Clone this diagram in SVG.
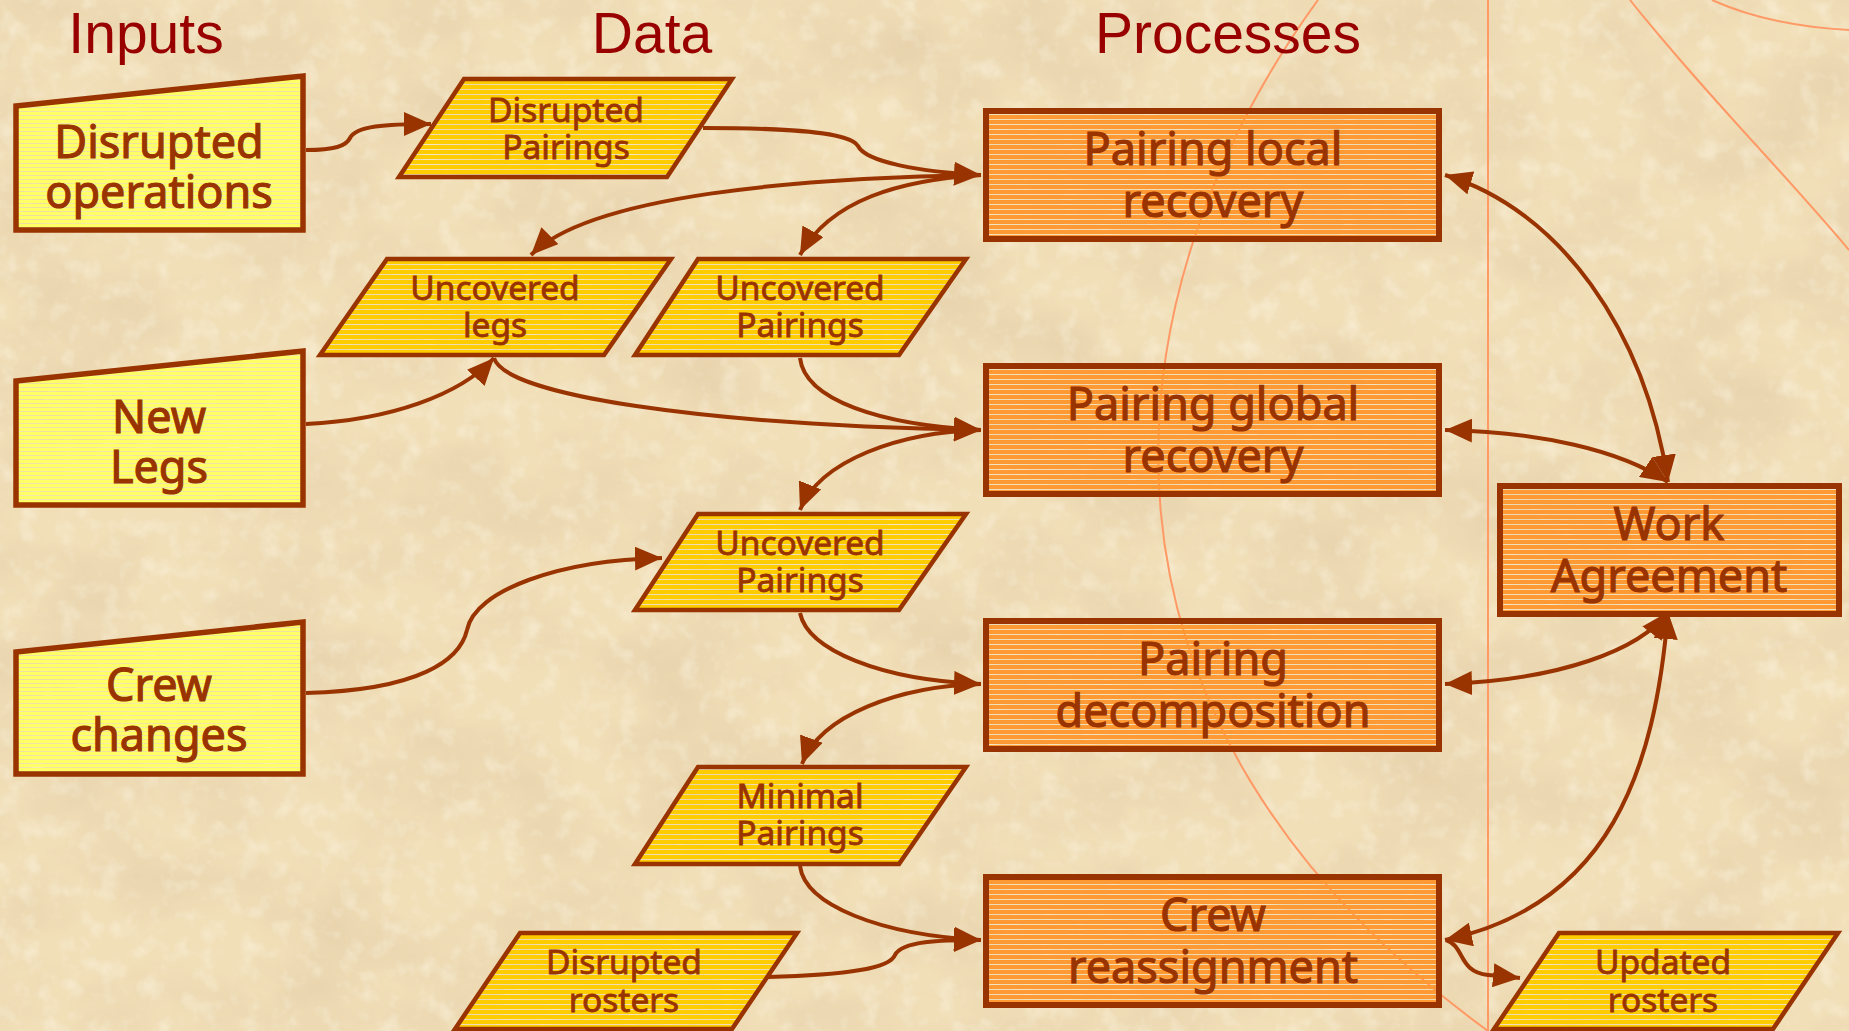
<svg xmlns="http://www.w3.org/2000/svg" width="1849" height="1031" viewBox="0 0 1849 1031">
<defs>
<style>
.title{font-family:"Liberation Sans",Arial,sans-serif;font-size:57px;fill:#990000;text-anchor:middle}
.lbl{font-family:"Noto Sans","DejaVu Sans",sans-serif;fill:#993300;stroke:#993300;text-anchor:middle}
.big{font-size:45px;stroke-width:1.1}
.sm{font-size:33.5px;stroke-width:0.8}
.inp{fill:url(#pIn);stroke:#993300;stroke-width:5.5;stroke-linejoin:miter}
.dat{fill:url(#pDat);stroke:#993300;stroke-width:4.5;stroke-linejoin:miter}
.proc{fill:url(#pProc);stroke:#993300;stroke-width:6}
.con{fill:none;stroke:#993300;stroke-width:4}
.deco{fill:none;stroke:#FF9966;stroke-width:2}
</style>
<filter id="paper" filterUnits="userSpaceOnUse" x="0" y="0" width="1849" height="1031">
<feTurbulence type="fractalNoise" baseFrequency="0.008 0.011" numOctaves="5" seed="7" result="n"/>
<feColorMatrix in="n" type="matrix" values="0 0 0 0 0.76  0 0 0 0 0.60  0 0 0 0 0.38  1.3 0 0 0 -0.5"/>
</filter>
<filter id="speck" filterUnits="userSpaceOnUse" x="0" y="0" width="1849" height="1031">
<feTurbulence type="fractalNoise" baseFrequency="0.05" numOctaves="3" seed="3" result="n"/>
<feColorMatrix in="n" type="matrix" values="0 0 0 0 0.98  0 0 0 0 0.93  0 0 0 0 0.80  1.1 0 0 0 -0.55"/>
</filter>
<pattern id="pIn" width="10" height="4" patternUnits="userSpaceOnUse"><rect width="10" height="3.2" fill="#FFFF66"/></pattern>
<pattern id="pDat" width="10" height="5" patternUnits="userSpaceOnUse"><rect width="10" height="4" fill="#FFCC00"/></pattern>
<pattern id="pProc" width="10" height="5" patternUnits="userSpaceOnUse"><rect width="10" height="4" fill="#FF9933"/></pattern>
<marker id="ah" viewBox="0 0 27 24" refX="27" refY="12" markerWidth="27" markerHeight="24" markerUnits="userSpaceOnUse" orient="auto-start-reverse">
<path d="M0,0 L27,12 L0,24 z" fill="#993300"/>
</marker>
</defs>

<g id="background">
<rect width="1849" height="1031" fill="#F1DFB8"/>
<rect width="1849" height="1031" filter="url(#paper)"/>
<rect width="1849" height="1031" filter="url(#speck)"/>
<path class="deco" d="M1318,0 C1100,300 1060,720 1488,1031"/>
<path class="deco" d="M1488,0 V1031"/>
<path class="deco" d="M1630,0 C1700,88 1780,168 1849,250"/>
<path class="deco" d="M1712,0 Q1770,26 1849,30"/>
</g>

<g id="titles">
<text class="title" x="146" y="53">Inputs</text>
<text class="title" x="652" y="53">Data</text>
<text class="title" x="1228" y="53">Processes</text>
</g>

<g id="connectors">
<path class="con" marker-end="url(#ah)" d="M306,150 C335,150 346,146 350,138 C356,126 385,124 431,124"/>
<path class="con" marker-end="url(#ah)" d="M703,128 C790,128 850,132 858,146 C866,162 920,172 981,175"/>
<path class="con" marker-end="url(#ah)" d="M981,175 C800,178 590,195 531,255"/>
<path class="con" marker-end="url(#ah)" d="M981,175 C900,180 830,200 800,255"/>
<path class="con" marker-end="url(#ah)" d="M306,424 C390,420 460,395 494,358"/>
<path class="con" marker-end="url(#ah)" d="M494,358 C505,395 700,425 981,430"/>
<path class="con" marker-end="url(#ah)" d="M800,358 C805,400 880,425 981,430"/>
<path class="con" marker-end="url(#ah)" d="M981,430 C900,432 820,460 800,510"/>
<path class="con" marker-end="url(#ah)" d="M306,693 C420,690 460,660 467,630 C475,590 560,560 662,558"/>
<path class="con" marker-end="url(#ah)" d="M800,613 C808,650 880,680 981,684"/>
<path class="con" marker-end="url(#ah)" d="M981,684 C900,686 820,715 802,764"/>
<path class="con" marker-end="url(#ah)" d="M800,866 C805,905 880,935 981,940"/>
<path class="con" marker-end="url(#ah)" d="M768,977 C850,975 890,968 895,955 C902,941 940,940 981,940"/>
<path class="con" marker-end="url(#ah)" d="M1446,940 C1465,946 1458,972 1488,975 C1500,976 1510,977 1520,978"/>
<path class="con" marker-start="url(#ah)" marker-end="url(#ah)" d="M1668,612 C1655,770 1610,905 1445,940"/>
<path class="con" marker-start="url(#ah)" marker-end="url(#ah)" d="M1668,612 C1640,650 1560,680 1445,684"/>
<path class="con" marker-start="url(#ah)" marker-end="url(#ah)" d="M1445,430 C1540,432 1620,450 1668,482"/>
<path class="con" marker-start="url(#ah)" marker-end="url(#ah)" d="M1445,175 C1560,210 1645,330 1668,482"/>
</g>

<g id="in-disrupted-operations">
<polygon class="inp" points="16,106 303,76 303,230 16,230"/>
<text class="lbl big" x="159" y="158">Disrupted</text>
<text class="lbl big" x="159" y="208">operations</text>
</g>
<g id="in-new-legs">
<polygon class="inp" points="16,381 303,351 303,505 16,505"/>
<text class="lbl big" x="159" y="433">New</text>
<text class="lbl big" x="159" y="483">Legs</text>
</g>
<g id="in-crew-changes">
<polygon class="inp" points="16,652 303,622 303,774 16,774"/>
<text class="lbl big" x="159" y="701">Crew</text>
<text class="lbl big" x="159" y="751">changes</text>
</g>

<g id="d-disrupted-pairings">
<polygon class="dat" points="464,79 732,79 667,177 399,177"/>
<text class="lbl sm" x="566" y="122">Disrupted</text>
<text class="lbl sm" x="566" y="159">Pairings</text>
</g>
<g id="d-uncovered-legs">
<polygon class="dat" points="387,259 671,259 604,355 320,355"/>
<text class="lbl sm" x="495" y="300">Uncovered</text>
<text class="lbl sm" x="495" y="337">legs</text>
</g>
<g id="d-uncovered-pairings-1">
<polygon class="dat" points="698,259 966,259 899,355 635,355"/>
<text class="lbl sm" x="800" y="300">Uncovered</text>
<text class="lbl sm" x="800" y="337">Pairings</text>
</g>
<g id="d-uncovered-pairings-2">
<polygon class="dat" points="698,514 966,514 899,610 635,610"/>
<text class="lbl sm" x="800" y="555">Uncovered</text>
<text class="lbl sm" x="800" y="592">Pairings</text>
</g>
<g id="d-minimal-pairings">
<polygon class="dat" points="698,767 966,767 899,864 635,864"/>
<text class="lbl sm" x="800" y="808">Minimal</text>
<text class="lbl sm" x="800" y="845">Pairings</text>
</g>
<g id="d-disrupted-rosters">
<polygon class="dat" points="520,933 797,933 732,1029 455,1029"/>
<text class="lbl sm" x="624" y="974">Disrupted</text>
<text class="lbl sm" x="624" y="1012">rosters</text>
</g>
<g id="d-updated-rosters">
<polygon class="dat" points="1559,933 1838,933 1773,1029 1494,1029"/>
<text class="lbl sm" x="1663" y="974">Updated</text>
<text class="lbl sm" x="1663" y="1012">rosters</text>
</g>

<g id="p-pairing-local-recovery">
<rect class="proc" x="986" y="111" width="453" height="128"/>
<text class="lbl big" x="1213" y="165">Pairing local</text>
<text class="lbl big" x="1213" y="217">recovery</text>
</g>
<g id="p-pairing-global-recovery">
<rect class="proc" x="986" y="366" width="453" height="128"/>
<text class="lbl big" x="1213" y="420">Pairing global</text>
<text class="lbl big" x="1213" y="472">recovery</text>
</g>
<g id="p-pairing-decomposition">
<rect class="proc" x="986" y="621" width="453" height="128"/>
<text class="lbl big" x="1213" y="675">Pairing</text>
<text class="lbl big" x="1213" y="727">decomposition</text>
</g>
<g id="p-crew-reassignment">
<rect class="proc" x="986" y="877" width="453" height="128"/>
<text class="lbl big" x="1213" y="931">Crew</text>
<text class="lbl big" x="1213" y="983">reassignment</text>
</g>
<g id="p-work-agreement">
<rect class="proc" x="1500" y="486" width="339" height="128"/>
<text class="lbl big" x="1669" y="540">Work</text>
<text class="lbl big" x="1669" y="592">Agreement</text>
</g>
</svg>
